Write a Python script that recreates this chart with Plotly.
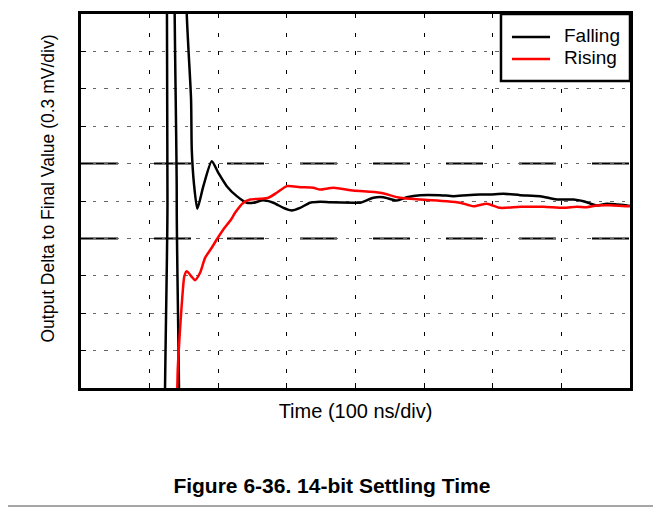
import plotly.graph_objects as go

# time in ns, output delta to final value in mV (0.3 mV/div, 100 ns/div)
falling_t = [124.5, 126.0, 127.5, 137.5, 139.5, 141.5, 150.0, 154.1, 160.4, 161.4, 164.7, 169.5,
             178.3, 190.5, 200.1, 212.4, 227.0, 241.5, 251.2, 265.7, 280.3, 294.9,
             307.1, 319.2, 333.8, 348.4, 363.0, 396.9, 406.7, 426.1, 440.7, 460.2,
             474.8, 494.2, 523.3, 542.7, 562.2, 581.6, 596.2, 615.6, 639.9, 669.1,
             693.4, 717.6, 732.2, 751.7, 766.3, 780.9, 795.5, 800.0]
falling_v = [3.0, 0.0, -3.0, -3.0, 0.0, 3.0, 3.0, 1.5, 0.814, 0.413, 0.132, -0.063,
             0.119, 0.319, 0.226, 0.119, 0.039, -0.014, -0.014, 0.006, -0.014, -0.055,
             -0.076, -0.055, -0.014, -0.006, -0.010, -0.014, -0.014, 0.026, 0.030, 0.004,
             0.030, 0.047, 0.047, 0.039, 0.047, 0.052, 0.052, 0.058, 0.047, 0.039,
             0.012, 0.012, -0.002, -0.036, -0.022, -0.028, -0.036, -0.040]

rising_t = [139.5, 141.0, 144.3, 147.7, 150.6, 154.1, 161.4, 166.2, 173.5, 180.8,
            190.5, 197.8, 207.4, 218.7, 224.5, 236.6, 246.4, 260.9, 273.0, 285.3,
            299.9, 319.2, 338.6, 348.4, 367.8, 396.9, 435.9, 465.0, 494.2, 533.1,
            552.5, 571.9, 591.4, 610.8, 639.9, 673.9, 703.1, 722.6, 737.1, 751.7,
            771.1, 795.5, 800.0]
rising_v = [-1.8, -1.352, -1.031, -0.764, -0.603, -0.563, -0.608, -0.635, -0.576, -0.456,
            -0.375, -0.309, -0.229, -0.148, -0.095, -0.014, 0.012, 0.018, 0.026, 0.066,
            0.119, 0.111, 0.106, 0.092, 0.106, 0.084, 0.066, 0.026, 0.012, -0.002,
            -0.014, -0.042, -0.022, -0.055, -0.047, -0.047, -0.055, -0.047, -0.050, -0.036,
            -0.034, -0.042, -0.040]

band = 0.3  # settling band lines
series_names = ["Falling", "Rising"]
series_colors = ["black", "#ff0000"]
FONT = "Liberation Sans, Arial, Helvetica, sans-serif"

fig = go.Figure()
fig.add_trace(go.Scatter(x=falling_t, y=falling_v, mode="lines", name=series_names[0],
                         line=dict(color=series_colors[0], width=2.5, shape="spline", smoothing=0.6)))
fig.add_trace(go.Scatter(x=rising_t, y=rising_v, mode="lines", name=series_names[1],
                         line=dict(color=series_colors[1], width=2.5, shape="spline", smoothing=0.6)))

for lvl in (band, -band):
    fig.add_shape(type="line", xref="x", yref="y", x0=0, x1=800, y0=lvl, y1=lvl,
                  line=dict(color="black", width=2, dash="37px,36px"), layer="below")

# page bottom border
fig.add_shape(type="line", xref="paper", yref="paper", x0=-0.2, x1=1.1,
              y0=-0.3155, y1=-0.3155, line=dict(color="#888888", width=1.5))

# legend box drawn by hand (line samples are longer than plotly's)
fig.add_shape(type="rect", xref="paper", yref="paper", x0=0.765, x1=1.0, y0=0.8209, y1=1.0,
              fillcolor="white", line=dict(color="black", width=2.5), layer="above")
for i, (nm, col) in enumerate(zip(series_names, series_colors)):
    yy = 0.9385 - i * 0.0588
    fig.add_shape(type="line", xref="paper", yref="paper", x0=0.785, x1=0.8543, y0=yy, y1=yy,
                  line=dict(color=col, width=2.5), layer="above")
    fig.add_annotation(text=nm, xref="paper", yref="paper", x=0.8761, y=yy + 0.004,
                       xanchor="left", yanchor="middle", showarrow=False,
                       font=dict(size=19, family=FONT, color="black"))

# y axis title, sits a little above the plot centre in the original
fig.add_annotation(text="Output Delta to Final Value (0.3 mV/div)", textangle=-90,
                   xref="paper", yref="paper", x=-0.0619, y=0.5334,
                   xanchor="center", yanchor="middle", showarrow=False,
                   font=dict(size=17.5, family=FONT, color="black"))

fig.update_layout(
    width=653, height=500,
    margin=dict(l=73, r=31, t=6, b=120),
    paper_bgcolor="white", plot_bgcolor="white",
    font=dict(family=FONT, size=19, color="black"),
    showlegend=False,
    title=dict(text="<b>Figure 6-36. 14-bit Settling Time</b>",
               x=0.496, xanchor="center", xref="container",
               y=1 - 478 / 500, yanchor="middle", yref="container",
               font=dict(size=21, family=FONT)),
    xaxis=dict(range=[0, 800], dtick=100, tick0=0, showticklabels=False,
               ticks="inside", ticklen=5, tickcolor="black",
               showgrid=True, gridcolor="black", gridwidth=1, griddash="4px,14.7px",
               showline=True, linecolor="black", linewidth=3, mirror=True,
               zeroline=False, automargin=False,
               title=dict(text="Time (100 ns/div)", standoff=14, font=dict(size=20))),
    yaxis=dict(range=[-1.5, 1.5], dtick=0.3, tick0=0, showticklabels=False,
               ticks="inside", ticklen=5, tickcolor="black",
               showgrid=True, gridcolor="#666666", gridwidth=1, griddash="3.5px,8px",
               showline=True, linecolor="black", linewidth=3, mirror=True,
               zeroline=False, automargin=False),
)

fig.write_html("out.html")
